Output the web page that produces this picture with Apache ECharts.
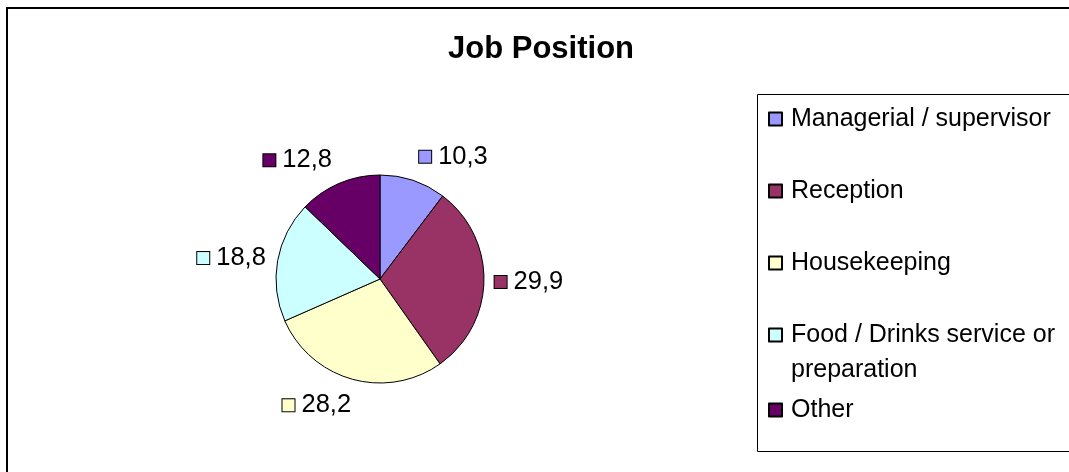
<!DOCTYPE html>
<html>
<head>
<meta charset="utf-8">
<title>Job Position</title>
<script src="https://cdn.jsdelivr.net/npm/echarts@6/dist/echarts.min.js"></script>
<style>
  html, body { margin: 0; padding: 0; background: #fff; }
  #main { width: 1069px; height: 472px; }
</style>
</head>
<body>
<div id="main"></div>
<script>
// data
const categories = ['Managerial / supervisor', 'Reception', 'Housekeeping', 'Food / Drinks service or preparation', 'Other']
const legendText = ['Managerial / supervisor', 'Reception', 'Housekeeping', 'Food / Drinks service or\npreparation', 'Other']
const shares = [10.3, 29.9, 28.2, 18.8, 12.8]
const colors = ['#9999FF', '#993366', '#FFFFCC', '#CCFFFF', '#660066']

// layout
const font = 'Liberation Sans, Arial, sans-serif'
const pieCenter = [380, 279]
const pieRadius = 104
const legendRowY = [119, 191, 263, 335, 410]
const lineH = 35

const total = shares.reduce((s, v) => s + v, 0)
const starts = shares.map((v, i) => shares.slice(0, i).reduce((s, x) => s + x, 0))
const clamp = (v, lo, hi) => Math.max(lo, Math.min(hi, v))
const fmt = v => v.toFixed(1).replace('.', ',')

// rich styles for the small colour keys in the data labels
const rich = { v: { fontSize: 25.5, fontFamily: font, color: '#000', padding: [0, 0, 0, 7] } }
colors.forEach((c, i) => {
  rich['s' + i] = { width: 12, height: 12, backgroundColor: c, borderColor: '#000', borderWidth: 1 }
})

// one legend per row; a wrapped row gets blank lines on top so its key
// stays level with the first line of text
const legends = categories.map((name, i) => {
  const lines = legendText[i].split('\n').length
  const text = '\n'.repeat(lines - 1) + legendText[i]
  const boxH = (2 * lines - 1) * lineH
  return {
    data: [name],
    orient: 'vertical',
    left: 768,
    top: legendRowY[i] - boxH / 2,
    padding: 0,
    icon: 'rect',
    itemWidth: 13,
    itemHeight: 13,
    selectedMode: false,
    formatter: () => text,
    textStyle: {
      fontSize: 25,
      fontFamily: font,
      color: '#000',
      lineHeight: lineH,
      padding: [0, 0, 0, 4]
    }
  }
})

const myChart = echarts.init(document.querySelector('#main'))
myChart.setOption({
  animation: false,
  title: {
    text: 'Job Position',
    left: 448,
    top: 34,
    padding: 0,
    textStyle: { fontSize: 31, fontWeight: 'bold', fontFamily: font, color: '#000' }
  },
  legend: legends,
  graphic: [
    // outer chart frame
    { type: 'rect', shape: { x: 7, y: 8, width: 1100, height: 500 }, style: { fill: 'none', stroke: '#000', lineWidth: 2 }, silent: true },
    // legend box
    { type: 'rect', shape: { x: 757.5, y: 94.5, width: 400, height: 357 }, style: { fill: 'none', stroke: '#000', lineWidth: 1 }, silent: true }
  ],
  series: [
    {
      name: 'Job Position',
      type: 'pie',
      center: pieCenter,
      radius: pieRadius,
      startAngle: 90,
      clockwise: true,
      avoidLabelOverlap: false,
      emphasis: { disabled: true },
      itemStyle: { borderColor: '#000', borderWidth: 1 },
      label: {
        show: true,
        position: 'outside',
        formatter: p => `{s${p.dataIndex}|}{v|${fmt(p.value)}}`,
        rich: rich
      },
      labelLine: { show: false },
      // place each label just outside the slice, along its middle angle
      labelLayout: p => {
        const i = p.dataIndex
        const a = (starts[i] + shares[i] / 2) / total * Math.PI * 2
        const ux = Math.sin(a)
        const uy = -Math.cos(a)
        const d = pieRadius + 10 + 8 * Math.abs(uy)
        const hw = p.labelRect.width / 2
        return {
          x: pieCenter[0] + d * ux + clamp(ux * 115, -hw, hw),
          y: pieCenter[1] + 1 + d * uy + clamp(uy * 10, -8, 8),
          align: 'center',
          verticalAlign: 'middle'
        }
      },
      data: categories.map((name, i) => ({
        name: name,
        value: shares[i],
        itemStyle: { color: colors[i] }
      }))
    }
  ]
})
</script>
</body>
</html>
